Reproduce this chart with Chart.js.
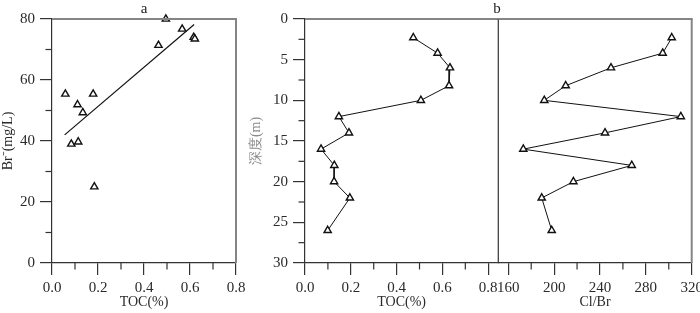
<!DOCTYPE html>
<html lang="zh">
<head>
<meta charset="UTF-8">
<title>TOC / Br / Cl-Br</title>
<script src="https://cdn.jsdelivr.net/npm/chart.js"></script>
<style>
  body { margin: 0; background: #fff; }
  #wrap { position: relative; width: 700px; height: 313px; overflow: hidden; }
  canvas { position: absolute; top: 0; }
  .lbl { position: absolute; font: 15px "Liberation Serif", serif; color: #222; transform: translate(-50%, -50%); }
</style>
</head>
<body>
<div id="wrap">
  <canvas id="chartA" width="255" height="313" style="left:0"></canvas>
  <canvas id="chartB" width="260" height="313" style="left:245px"></canvas>
  <canvas id="chartC" width="220" height="313" style="left:490px"></canvas>
  <div class="lbl" style="left:144px; top:8px">a</div>
  <div class="lbl" style="left:497px; top:8px">b</div>
</div>
<script>
// panel a: Br vs TOC
const aToc = [0.058, 0.179, 0.111, 0.134, 0.084, 0.114, 0.184, 0.463, 0.495, 0.566, 0.616, 0.621];
const aBr  = [55.4, 55.4, 51.9, 49.3, 39.0, 39.7, 25.0, 71.4, 80.0, 76.7, 74.0, 73.5];
const fitToc = [0.055, 0.618];
const fitBr  = [42.0, 78.2];

// panel b: depth profiles
const depth = [2.3, 4.2, 6.0, 8.2, 10, 12, 14, 16, 18, 20, 22, 26];
const bToc  = [0.473, 0.579, 0.633, 0.629, 0.506, 0.148, 0.192, 0.070, 0.128, 0.127, 0.196, 0.099];
const clBr  = [302.6, 294.7, 249.6, 210.1, 191.4, 310.5, 244.4, 173.1, 267.7, 216.8, 189.2, 197.9];

// ticks
const tocTicks   = [0, 0.2, 0.4, 0.6, 0.8];
const tocMinor   = [0.1, 0.3, 0.5, 0.7];
const brTicks    = [0, 20, 40, 60, 80];
const brMinor    = [10, 30, 50, 70];
const depthTicks = [0, 5, 10, 15, 20, 25, 30];
const depthMinor = [2.5, 7.5, 12.5, 17.5, 22.5, 27.5];
const clTicks    = [160, 200, 240, 280, 320];
const clMinor    = [180, 220, 260, 300];

const serif = 'Liberation Serif';
const ink = '#2a2a2a';
const axisCol = '#333';

const pts = (xs, ys) => xs.map((x, i) => ({ x: x, y: ys[i] }));

// gray top/right box lines + short minor ticks
const frame = {
  id: 'frame',
  afterDraw(chart, args, o) {
    const { ctx, chartArea: a, scales } = chart;
    const line = (x1, y1, x2, y2) => { ctx.beginPath(); ctx.moveTo(x1, y1); ctx.lineTo(x2, y2); ctx.stroke(); };
    ctx.save();
    ctx.strokeStyle = '#858585';
    ctx.lineWidth = 2;
    line(a.left, a.top, a.right + 1, a.top);
    ctx.strokeStyle = o.rightColor || '#858585';
    ctx.lineWidth = o.rightWidth || 2;
    line(a.right, a.top, a.right, a.bottom);
    ctx.strokeStyle = axisCol;
    ctx.lineWidth = 1.2;
    (o.minorX || []).forEach(v => {
      const p = scales.x.getPixelForValue(v);
      line(p, a.bottom, p, a.bottom + 6.5);
    });
    (o.minorY || []).forEach(v => {
      const p = scales.y.getPixelForValue(v);
      line(a.left - 6.5, p, a.left, p);
    });
    ctx.restore();
  }
};

const gridOpts = { drawOnChartArea: false, drawTicks: true, tickLength: 12, color: axisCol, lineWidth: 1.2 };

function xAxis(min, max, ticks, title, fmt) {
  return {
    type: 'linear', min: min, max: max,
    afterBuildTicks: s => { s.ticks = ticks.map(v => ({ value: v })); },
    afterFit: s => { s.height = 50; },
    grid: gridOpts,
    border: { color: axisCol, width: 1.2 },
    ticks: { autoSkip: false, maxRotation: 0, padding: 4, color: ink,
             font: { family: serif, size: 15 }, callback: fmt },
    title: { display: true, text: title, color: ink, padding: { top: 0, bottom: 2 },
             font: { family: serif, size: 14 } }
  };
}

function yAxis(min, max, ticks, title, titleColor, reverse, width, titlePad) {
  return {
    type: 'linear', min: min, max: max, reverse: reverse,
    afterBuildTicks: s => { s.ticks = ticks.map(v => ({ value: v })); },
    afterFit: s => { s.width = width; },
    grid: gridOpts,
    border: { color: axisCol, width: 1.2 },
    ticks: { autoSkip: false, padding: 5, color: ink, font: { family: serif, size: 15 } },
    title: { display: true, text: title, color: titleColor, padding: { top: titlePad, bottom: 0 },
             font: { family: serif, size: 14 } }
  };
}

const marker = {
  pointStyle: 'triangle', pointRadius: 4.2, pointHoverRadius: 4.2,
  pointBackgroundColor: '#fff', pointBorderColor: '#111', pointBorderWidth: 1.4,
  borderColor: '#111', borderWidth: 1, clip: false
};

function plug(frameOpts) {
  return { legend: { display: false }, tooltip: { enabled: false }, frame: frameOpts };
}

new Chart(document.getElementById('chartA'), {
  type: 'scatter',
  data: {
    datasets: [
      Object.assign({ data: pts(aToc, aBr), showLine: false }, marker),
      { data: pts(fitToc, fitBr), showLine: true, pointRadius: 0, borderColor: '#111', borderWidth: 1.2 }
    ]
  },
  options: {
    responsive: false, animation: false, events: [],
    layout: { padding: { left: 0, right: 19, top: 19, bottom: 0 } },
    scales: {
      x: xAxis(0, 0.8, tocTicks, 'TOC(%)', v => v.toFixed(1)),
      y: yAxis(0, 80, brTicks, 'Br\u207B(mg/L)', ink, false, 52, 0)
    },
    plugins: plug({ minorX: tocMinor, minorY: brMinor })
  },
  plugins: [frame]
});

new Chart(document.getElementById('chartB'), {
  type: 'scatter',
  data: { datasets: [Object.assign({ data: pts(bToc, depth), showLine: true }, marker)] },
  options: {
    responsive: false, animation: false, events: [],
    layout: { padding: { left: 0, right: 6.7, top: 19, bottom: 0 } },
    scales: {
      x: xAxis(0, 0.844, tocTicks, 'TOC(%)', v => v.toFixed(1)),
      y: yAxis(0, 30, depthTicks, '深度(m)', '#8a8a8a', true, 60, 3)
    },
    plugins: plug({ minorX: tocMinor, minorY: depthMinor, rightColor: axisCol, rightWidth: 1.2 })
  },
  plugins: [frame]
});

new Chart(document.getElementById('chartC'), {
  type: 'scatter',
  data: { datasets: [Object.assign({ data: pts(clBr, depth), showLine: true }, marker)] },
  options: {
    responsive: false, animation: false, events: [],
    layout: { padding: { left: 8.3, right: 18.3, top: 19, bottom: 0 } },
    scales: {
      x: xAxis(151.3, 320, clTicks, 'Cl/Br', v => String(v)),
      y: { type: 'linear', min: 0, max: 30, reverse: true, display: false }
    },
    plugins: plug({ minorX: clMinor })
  },
  plugins: [frame]
});
</script>
</body>
</html>
